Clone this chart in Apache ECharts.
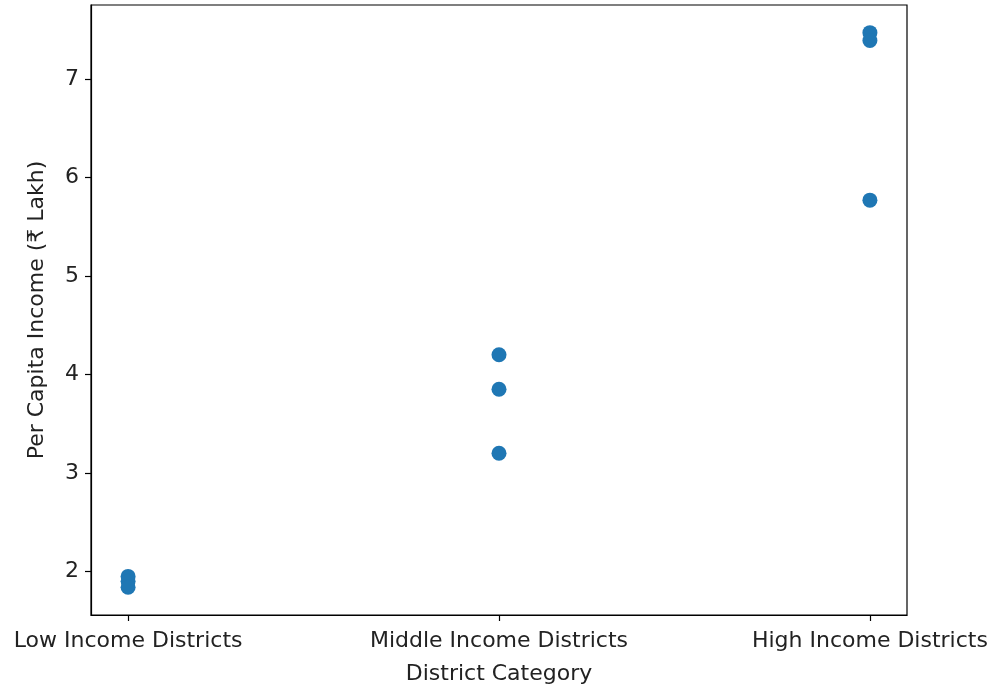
<!DOCTYPE html>
<html>
<head>
<meta charset="utf-8">
<script src="https://cdn.jsdelivr.net/npm/echarts@6/dist/echarts.min.js"></script>
<style>html,body{margin:0;padding:0;background:#fff;}#c{width:997px;height:686px;}</style>
</head>
<body>
<div id="c"></div>
<script>
const categories = ["Low Income Districts", "Middle Income Districts", "High Income Districts"];
const lowValues = [1.95, 1.90, 1.84];
const middleValues = [4.20, 3.85, 3.20];
const highValues = [7.47, 7.39, 5.77];
const yTicks = [2, 3, 4, 5, 6, 7];

const groups = [lowValues, middleValues, highValues];
const points = [];
groups.forEach((vals, i) => vals.forEach(v => points.push([i, v])));

const font = "DejaVu Sans";
const chart = echarts.init(document.getElementById('c'), null, {renderer: 'canvas'});
chart.setOption({
  animation: false,
  backgroundColor: '#fff',
  grid: {left: 91, right: 90, top: 5, bottom: 71, containLabel: false, outerBoundsMode: 'none',
    show: true, borderColor: '#000', borderWidth: 1.2, backgroundColor: 'transparent'},
  xAxis: {
    type: 'value', min: -0.1, max: 2.1,
    name: 'District Category', nameLocation: 'middle', nameGap: 48,
    nameTextStyle: {fontFamily: font, fontSize: 22, color: '#222'},
    axisLine: {show: true, onZero: false, lineStyle: {color: '#000', width: 1.2}},
    axisTick: {show: true, length: 6, lineStyle: {color: '#000', width: 1.2}, customValues: [0, 1, 2]},
    axisLabel: {fontFamily: font, fontSize: 22, color: '#222', margin: 15,
      customValues: [0, 1, 2], formatter: v => categories[Math.round(v)]},
    splitLine: {show: false}
  },
  yAxis: {
    type: 'value', min: 1.558, max: 7.751,
    name: 'Per Capita Income (₹ Lakh)', nameLocation: 'middle', nameGap: 43,
    nameTextStyle: {fontFamily: font, fontSize: 22, color: '#222'},
    axisLine: {show: true, onZero: false, lineStyle: {color: '#000', width: 1.2}},
    axisTick: {show: true, length: 6, lineStyle: {color: '#000', width: 1.2}, customValues: yTicks},
    axisLabel: {fontFamily: font, fontSize: 22, color: '#222', margin: 12, customValues: yTicks},
    splitLine: {show: false}
  },
  series: [{
    type: 'scatter',
    data: points,
    symbolSize: 15,
    itemStyle: {color: '#1f77b4', opacity: 1}
  }]
});
</script>
</body>
</html>
